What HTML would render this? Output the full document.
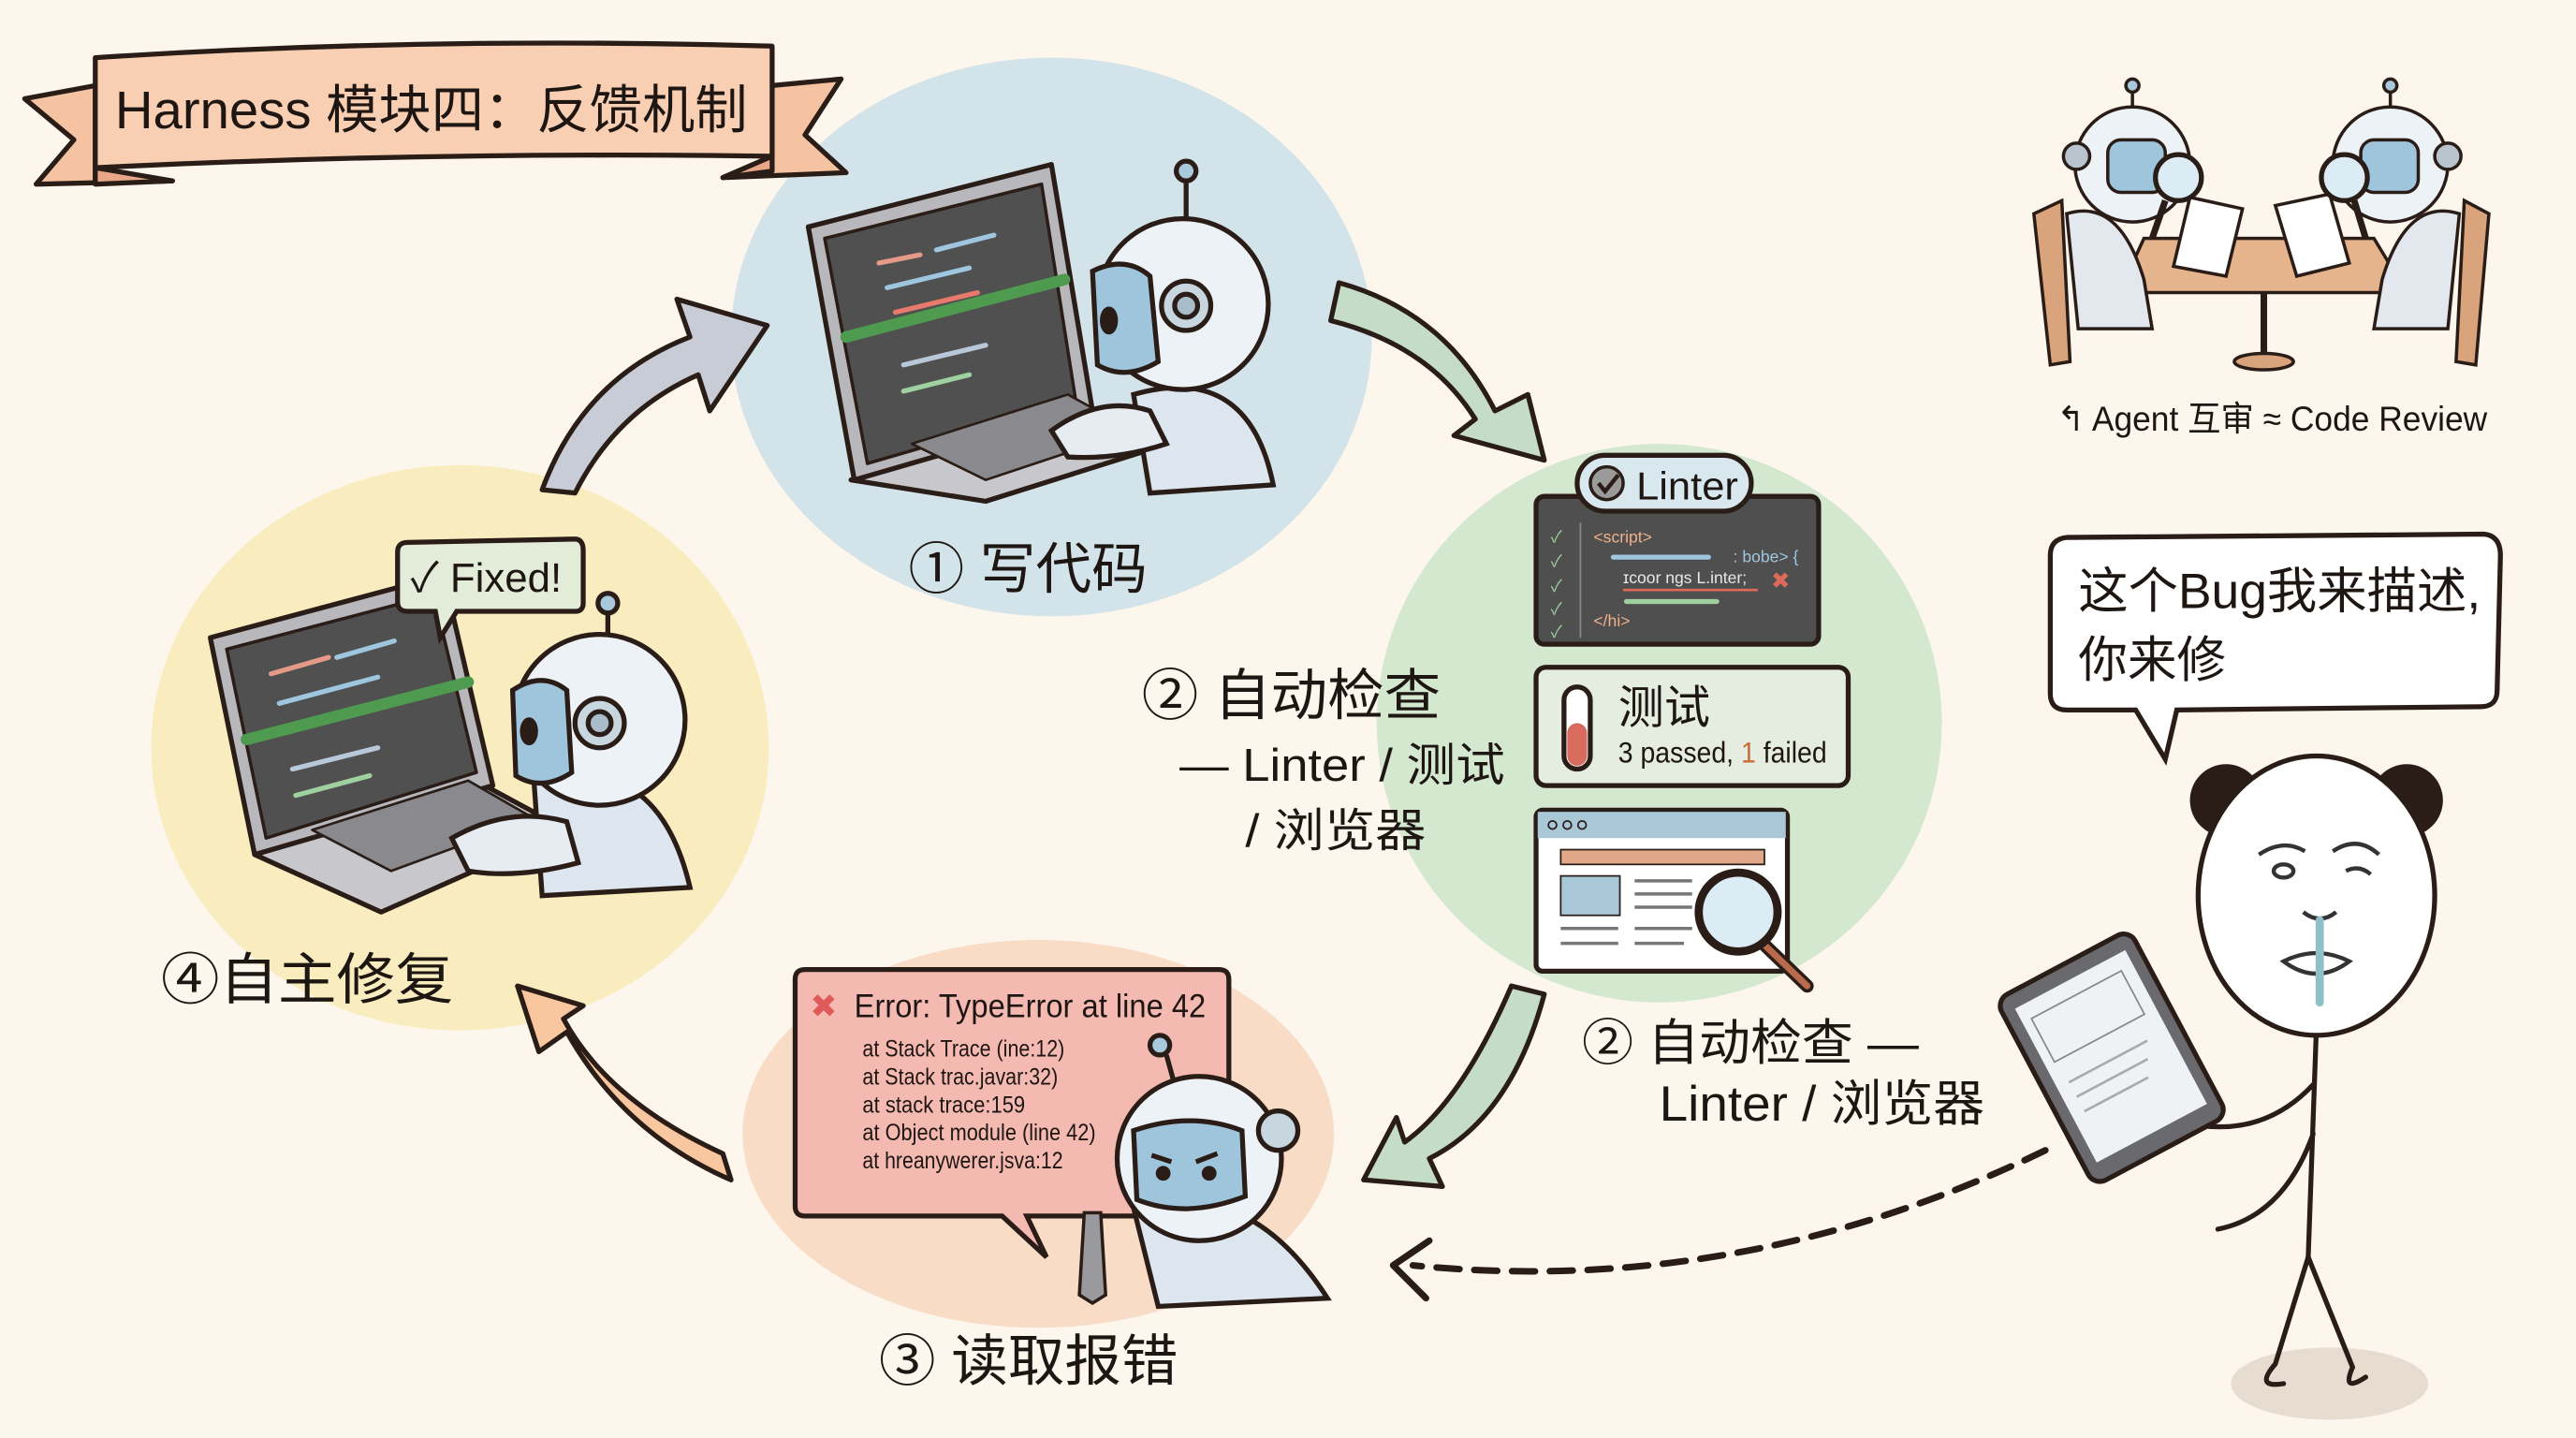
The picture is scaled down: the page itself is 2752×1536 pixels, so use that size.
<!DOCTYPE html>
<html><head><meta charset="utf-8"><style>
html,body{margin:0;padding:0;background:#fcf6ec;}
svg{display:block}
text{font-family:"Liberation Sans","Noto Sans CJK SC",sans-serif;fill:#1e1612}
</style></head><body>
<svg width="2752" height="1536" viewBox="0 0 1568 875" xmlns="http://www.w3.org/2000/svg">
<rect width="1568" height="875" fill="#fcf6ec"/>
<!-- blobs -->
<ellipse cx="640" cy="205" rx="195" ry="170" fill="#d3e3ea"/>
<ellipse cx="1010" cy="440" rx="172" ry="170" fill="#d4e8d0"/>
<ellipse cx="280" cy="455" rx="188" ry="172" fill="#f9edbf"/>
<ellipse cx="632" cy="690" rx="180" ry="118" fill="#f8dcc6"/>

<!-- banner -->
<g stroke="#2a1d17" stroke-width="3" stroke-linejoin="round">
<polygon points="15,60 58,52 58,110 105,110 22,112 45,85" fill="#f5c3a2"/>
<polygon points="470,52 512,48 490,82 515,105 440,108 470,95" fill="#f5c3a2"/>
<path d="M58,35 Q260,22 470,28 L470,95 Q260,92 58,102 Z" fill="#f8cfb2"/>
<polygon points="58,102 105,110 58,112" fill="#e8a888"/>
<polygon points="470,95 440,108 470,104" fill="#e8a888"/>
</g>
<text x="70" y="78" font-size="32" textLength="385" lengthAdjust="spacingAndGlyphs">Harness 模块四：反馈机制</text>

<!-- arrows -->
<path d="M330,298 Q355,230 420,205 L412,182 L467,198 L432,250 L425,228 Q375,250 350,300 Z" fill="#c8ccd6" stroke="#2a1d17" stroke-width="3" stroke-linejoin="round"/>
<path d="M815,172 Q880,190 910,250 L930,240 L940,280 L885,265 L898,255 Q870,210 810,195 Z" fill="#c5dcc6" stroke="#2a1d17" stroke-width="3" stroke-linejoin="round"/>
<path d="M940,605 Q920,680 870,705 L878,722 L830,718 L850,680 L855,695 Q890,670 920,600 Z" fill="#c5dcc6" stroke="#2a1d17" stroke-width="3" stroke-linejoin="round"/>
<path d="M445,718 Q380,690 345,628 L328,640 L315,600 L355,612 L343,620 Q370,670 440,702 Z" fill="#f8c7a0" stroke="#2a1d17" stroke-width="3" stroke-linejoin="round"/>

<!-- laptop 1 -->
<g stroke="#2a1d17" stroke-width="3" stroke-linejoin="round">
<polygon points="518,292 660,252 705,272 600,305" fill="#c8c8cc"/>
<polygon points="492,138 640,100 665,250 520,292" fill="#b8b8bc"/>
<polygon points="502,145 634,112 655,245 528,282" fill="#505050" stroke-width="2"/>
<polygon points="555,270 650,240 690,262 600,292" fill="#8a8a8e" stroke-width="1.5"/>
</g>
<g stroke-width="3" stroke-linecap="round">
<line x1="515" y1="205" x2="648" y2="170" stroke="#4e9a4e" stroke-width="7"/>
<line x1="535" y1="160" x2="560" y2="155" stroke="#e59a88"/><line x1="570" y1="152" x2="605" y2="143" stroke="#9ec7df"/>
<line x1="540" y1="175" x2="590" y2="163" stroke="#9ec7df"/><line x1="545" y1="190" x2="595" y2="178" stroke="#e77a6a"/>
<line x1="550" y1="222" x2="600" y2="210" stroke="#b8c8d8"/><line x1="550" y1="238" x2="590" y2="228" stroke="#9fd09f"/>
</g>
<!-- robot 1 -->
<g stroke="#2a1d17" stroke-width="3">
<path d="M690,240 Q760,220 775,295 L700,300 Z" fill="#dde6ee"/>
<line x1="722" y1="108" x2="722" y2="135"/><circle cx="722" cy="104" r="6" fill="#a8c8dc"/>
<circle cx="720" cy="185" r="52" fill="#edf2f6"/>
<path d="M665,165 Q685,155 700,168 L705,220 Q685,232 668,222 Z" fill="#9ec5dc"/>
<circle cx="722" cy="186" r="15" fill="#c8d6e0"/><circle cx="722" cy="186" r="7" fill="#a8bccb"/>
<ellipse cx="675" cy="195" rx="4" ry="7" fill="#2a1d17"/>
<path d="M640,262 Q670,240 700,250 L710,270 Q680,280 650,278 Z" fill="#e6ecf2"/>
</g>

<!-- label 1 -->
<text x="553" y="358" font-size="34">① 写代码</text>

<!-- laptop 2 -->
<g stroke="#2a1d17" stroke-width="3" stroke-linejoin="round">
<polygon points="155,520 295,478 345,505 232,555" fill="#c8c8cc"/>
<polygon points="128,388 270,350 300,478 155,520" fill="#b8b8bc"/>
<polygon points="138,395 264,362 290,470 162,510" fill="#505050" stroke-width="2"/>
<polygon points="190,505 285,475 325,498 238,530" fill="#8a8a8e" stroke-width="1.5"/>
</g>
<g stroke-width="3" stroke-linecap="round">
<line x1="150" y1="450" x2="285" y2="415" stroke="#4e9a4e" stroke-width="7"/>
<line x1="165" y1="410" x2="200" y2="400" stroke="#e59a88"/><line x1="205" y1="400" x2="240" y2="390" stroke="#9ec7df"/>
<line x1="170" y1="428" x2="230" y2="412" stroke="#9ec7df"/>
<line x1="178" y1="468" x2="230" y2="455" stroke="#b8c8d8"/><line x1="180" y1="484" x2="225" y2="472" stroke="#9fd09f"/>
</g>
<g stroke="#2a1d17" stroke-width="3">
<path d="M325,475 Q400,455 420,540 L330,545 Z" fill="#dde6ee"/>
<line x1="370" y1="373" x2="370" y2="395"/><circle cx="370" cy="367" r="6" fill="#a8c8dc"/>
<circle cx="365" cy="438" r="52" fill="#edf2f6"/>
<path d="M312,420 Q330,408 345,420 L348,470 Q330,482 314,472 Z" fill="#9ec5dc"/>
<circle cx="365" cy="440" r="15" fill="#c8d6e0"/><circle cx="365" cy="440" r="7" fill="#a8bccb"/>
<ellipse cx="322" cy="445" rx="4" ry="7" fill="#2a1d17"/>
<path d="M275,510 Q310,490 345,500 L352,525 Q315,535 285,530 Z" fill="#e6ecf2"/>
</g>
<!-- Fixed bubble -->
<g stroke="#2a1d17" stroke-width="3">
<path d="M248,330 L350,328 Q355,328 355,335 L355,367 Q355,372 350,372 L278,372 L268,388 L265,372 L248,372 Q242,372 242,366 L242,336 Q242,330 248,330 Z" fill="#e2ecd8"/>
</g>
<text x="250" y="360" font-size="25" textLength="92" lengthAdjust="spacingAndGlyphs">✓ Fixed!</text>
<text x="98" y="608" font-size="34" textLength="178" lengthAdjust="spacingAndGlyphs">④自主修复</text>

<!-- Linter card -->
<g stroke="#2a1d17" stroke-width="3">
<rect x="935" y="302" width="172" height="90" rx="5" fill="#4f4f4f"/>
<rect x="960" y="277" width="106" height="34" rx="17" fill="#d8e8ee"/>
<circle cx="978" cy="294" r="10" fill="#9a9a9a" stroke-width="2"/>
<rect x="935" y="406" width="190" height="72" rx="6" fill="#e4ede0"/>
<rect x="952" y="418" width="16" height="50" rx="8" fill="#fff"/>
<rect x="935" y="493" width="153" height="98" rx="4" fill="#fff"/>
</g>
<path d="M973,294 l4,5 l8,-10" stroke="#2a1d17" stroke-width="2.5" fill="none"/>
<text x="996" y="304" font-size="24" textLength="62" lengthAdjust="spacingAndGlyphs">Linter</text>
<g font-size="10" font-family="Liberation Mono,monospace">
<text x="944" y="330" style="fill:#9fd09f">✓</text><text x="944" y="345" style="fill:#9fd09f">✓</text><text x="944" y="360" style="fill:#9fd09f">✓</text><text x="944" y="374" style="fill:#9fd09f">✓</text><text x="944" y="388" style="fill:#9fd09f">✓</text>
<text x="970" y="330" style="fill:#f0b088">&lt;script&gt;</text>
<text x="1055" y="342" style="fill:#9ec7df">: bobe&gt; {</text>
<text x="988" y="355" style="fill:#e8e8e8">ɪcoor ngs L.inter;</text>
<text x="970" y="381" style="fill:#f0b088">&lt;/hi&gt;</text>
</g>
<line x1="962" y1="318" x2="962" y2="388" stroke="#888" stroke-width="1"/>
<line x1="982" y1="339" x2="1040" y2="339" stroke="#9ec7df" stroke-width="3" stroke-linecap="round"/>
<line x1="988" y1="359" x2="1070" y2="359" stroke="#e06a5a" stroke-width="1.5"/>
<line x1="990" y1="366" x2="1045" y2="366" stroke="#9fd09f" stroke-width="3" stroke-linecap="round"/>
<text x="1078" y="358" font-size="14" style="fill:#e06a5a">✖</text>
<rect x="954" y="440" width="12" height="26" rx="6" fill="#d86a5e"/>
<text x="985" y="440" font-size="28">测试</text>
<text x="985" y="464" font-size="18" textLength="127" lengthAdjust="spacingAndGlyphs">3 passed, <tspan style="fill:#c86a3a">1</tspan> failed</text>
<!-- browser -->
<rect x="936" y="494" width="151" height="16" fill="#a8c8d8"/>
<circle cx="945" cy="502" r="2.5" fill="none" stroke="#2a1d17"/><circle cx="954" cy="502" r="2.5" fill="none" stroke="#2a1d17"/><circle cx="963" cy="502" r="2.5" fill="none" stroke="#2a1d17"/>
<rect x="950" y="517" width="124" height="9" fill="#e0a888" stroke="#2a1d17" stroke-width="1"/>
<rect x="950" y="533" width="36" height="24" fill="#a8c8d8" stroke="#2a1d17" stroke-width="1"/>
<g stroke="#777" stroke-width="2"><line x1="995" y1="536" x2="1030" y2="536"/><line x1="995" y1="544" x2="1030" y2="544"/><line x1="995" y1="552" x2="1030" y2="552"/><line x1="950" y1="565" x2="985" y2="565"/><line x1="995" y1="565" x2="1030" y2="565"/><line x1="950" y1="574" x2="985" y2="574"/><line x1="995" y1="574" x2="1025" y2="574"/></g>
<line x1="1072" y1="573" x2="1100" y2="600" stroke="#2a1d17" stroke-width="8" stroke-linecap="round"/>
<line x1="1072" y1="573" x2="1100" y2="600" stroke="#b86a4a" stroke-width="4" stroke-linecap="round"/>
<circle cx="1058" cy="555" r="24" fill="#dcecf4" stroke="#2a1d17" stroke-width="5"/>

<text x="695" y="435" font-size="34" textLength="182" lengthAdjust="spacingAndGlyphs">② 自动检查</text>
<text x="718" y="475" font-size="28" textLength="198" lengthAdjust="spacingAndGlyphs">— Linter / 测试</text>
<text x="758" y="515" font-size="28" textLength="110" lengthAdjust="spacingAndGlyphs">/ 浏览器</text>
<text x="963" y="645" font-size="30" textLength="205" lengthAdjust="spacingAndGlyphs">② 自动检查 —</text>
<text x="1010" y="682" font-size="30" textLength="198" lengthAdjust="spacingAndGlyphs">Linter / 浏览器</text>

<!-- error box -->
<g stroke="#2a1d17" stroke-width="3">
<path d="M490,590 L742,590 Q748,590 748,596 L748,734 Q748,740 742,740 L625,740 L637,765 L610,740 L490,740 Q484,740 484,734 L484,596 Q484,590 490,590 Z" fill="#f4bab2"/>
</g>
<text x="493" y="619" font-size="20" style="fill:#e05a5a">✖</text>
<text x="520" y="619" font-size="20" textLength="214" lengthAdjust="spacingAndGlyphs">Error: TypeError at line 42</text>
<g font-size="14">
<text x="525" y="643" textLength="123" lengthAdjust="spacingAndGlyphs">at Stack Trace (ine:12)</text>
<text x="525" y="660" textLength="119" lengthAdjust="spacingAndGlyphs">at Stack trac.javar:32)</text>
<text x="525" y="677" textLength="99" lengthAdjust="spacingAndGlyphs">at stack trace:159</text>
<text x="525" y="694" textLength="142" lengthAdjust="spacingAndGlyphs">at Object module (line 42)</text>
<text x="525" y="711" textLength="122" lengthAdjust="spacingAndGlyphs">at hreanywerer.jsva:12</text>
</g>
<g stroke="#2a1d17" stroke-width="3">
<path d="M690,735 Q760,715 808,790 L705,795 Z" fill="#dde6ee"/>
<line x1="710" y1="642" x2="715" y2="660"/><circle cx="706" cy="636" r="6" fill="#a8c8dc"/>
<circle cx="730" cy="705" r="50" fill="#edf2f6"/>
<path d="M690,688 Q725,676 756,688 L758,728 Q722,742 692,730 Z" fill="#9ec5dc"/>
<circle cx="778" cy="688" r="12" fill="#c8d6e0"/>
<circle cx="708" cy="714" r="3" fill="#2a1d17"/><circle cx="736" cy="714" r="3" fill="#2a1d17"/>
<line x1="701" y1="703" x2="713" y2="707"/><line x1="728" y1="707" x2="741" y2="702"/>
<path d="M660,738 l10,0 l3,50 l-8,5 l-8,-5 Z" fill="#9a9a9e" stroke-width="2"/>
</g>
<text x="535" y="840" font-size="34" textLength="182" lengthAdjust="spacingAndGlyphs">③ 读取报错</text>

<!-- review robots -->
<g stroke="#2a1d17" stroke-width="2">
<path d="M1238,130 L1255,122 L1260,220 L1248,222 Z" fill="#d9a37c"/>
<path d="M1515,130 L1500,122 L1495,220 L1507,222 Z" fill="#d9a37c"/>
<polygon points="1305,145 1445,145 1465,178 1290,178" fill="#e6b48c"/>
<line x1="1378" y1="178" x2="1378" y2="218" stroke-width="4"/>
<ellipse cx="1378" cy="220" rx="18" ry="5" fill="#d9a37c"/>
<path d="M1258,130 Q1290,120 1305,170 L1310,200 L1265,200 Z" fill="#e2e8ee"/>
<path d="M1497,130 Q1465,120 1450,170 L1445,200 L1490,200 Z" fill="#e2e8ee"/>
<line x1="1298" y1="55" x2="1298" y2="68"/><circle cx="1298" cy="52" r="4" fill="#a8c8dc"/>
<line x1="1455" y1="55" x2="1455" y2="68"/><circle cx="1455" cy="52" r="4" fill="#a8c8dc"/>
<circle cx="1298" cy="100" r="35" fill="#edf2f6"/><circle cx="1455" cy="100" r="35" fill="#edf2f6"/>
<rect x="1283" y="85" width="35" height="32" rx="8" fill="#9ec5dc"/>
<rect x="1437" y="85" width="35" height="32" rx="8" fill="#9ec5dc"/>
<circle cx="1264" cy="95" r="8" fill="#b8c4ce"/><circle cx="1490" cy="95" r="8" fill="#b8c4ce"/>
<polygon points="1333,120 1365,127 1355,168 1323,162" fill="#fff"/>
<polygon points="1385,125 1418,118 1430,160 1398,168" fill="#fff"/>
<circle cx="1326" cy="108" r="14" fill="#dcecf4" stroke-width="3"/>
<circle cx="1427" cy="108" r="14" fill="#dcecf4" stroke-width="3"/>
<line x1="1318" y1="122" x2="1310" y2="145" stroke-width="4"/>
<line x1="1433" y1="122" x2="1440" y2="145" stroke-width="4"/>
</g>
<text x="1252" y="262" font-size="21" textLength="262" lengthAdjust="spacingAndGlyphs">↰ Agent 互审 ≈ Code Review</text>

<!-- speech bubble -->
<path d="M1258,327 L1512,325 Q1522,326 1522,338 L1520,420 Q1520,430 1510,430 L1325,432 L1318,462 L1300,432 L1258,432 Q1248,432 1248,422 L1248,338 Q1248,328 1258,327 Z" fill="#fff" stroke="#2a1d17" stroke-width="3"/>
<text x="1265" y="370" font-size="30" textLength="245" lengthAdjust="spacingAndGlyphs">这个Bug我来描述,</text>
<text x="1265" y="412" font-size="30">你来修</text>

<!-- panda man -->
<ellipse cx="1418" cy="842" rx="60" ry="22" fill="#e6dccf"/>
<g stroke="#2a1d17" stroke-width="3" fill="none" stroke-linecap="round">
<path d="M1410,625 L1405,765"/>
<path d="M1405,765 L1385,830 Q1372,845 1390,842"/>
<path d="M1405,765 L1432,832 Q1425,848 1440,838"/>
<path d="M1408,660 Q1380,690 1340,685"/>
<path d="M1408,690 Q1390,740 1350,748"/>
</g>
<circle cx="1355" cy="487" r="22" fill="#2a1d17"/>
<circle cx="1465" cy="487" r="22" fill="#2a1d17"/>
<ellipse cx="1410" cy="545" rx="72" ry="85" fill="#fff" stroke="#2a1d17" stroke-width="3"/>
<g stroke="#333" stroke-width="2.5" fill="none">
<path d="M1375,520 Q1390,510 1403,518"/><path d="M1420,518 Q1435,508 1448,520"/>
<ellipse cx="1390" cy="530" rx="6" ry="4"/><path d="M1428,530 Q1436,526 1443,532"/>
<path d="M1402,555 Q1412,563 1422,555"/>
<path d="M1390,585 Q1410,575 1430,585 Q1410,600 1390,585 Z" fill="#fff"/>
</g>
<line x1="1412" y1="560" x2="1412" y2="610" stroke="#8fc0c8" stroke-width="5" stroke-linecap="round"/>
<g transform="rotate(-28 1285 645)">
<rect x="1240" y="580" width="92" height="128" rx="8" fill="#6a6a6e" stroke="#2a1d17" stroke-width="3"/>
<rect x="1248" y="590" width="76" height="106" fill="#eef2f4"/>
<rect x="1254" y="600" width="62" height="30" fill="none" stroke="#888" stroke-width="1"/>
<g stroke="#aaa" stroke-width="1.5"><line x1="1256" y1="645" x2="1310" y2="645"/><line x1="1256" y1="655" x2="1305" y2="655"/><line x1="1256" y1="665" x2="1300" y2="665"/></g>
</g>
<!-- dashed arrow -->
<path d="M1245,700 Q1060,790 860,770" stroke="#2a1d17" stroke-width="4" fill="none" stroke-dasharray="14,9" stroke-linecap="round"/>
<path d="M870,755 L848,770 L868,790" stroke="#2a1d17" stroke-width="4" fill="none" stroke-linecap="round" stroke-linejoin="round"/>
</svg>
</body></html>
